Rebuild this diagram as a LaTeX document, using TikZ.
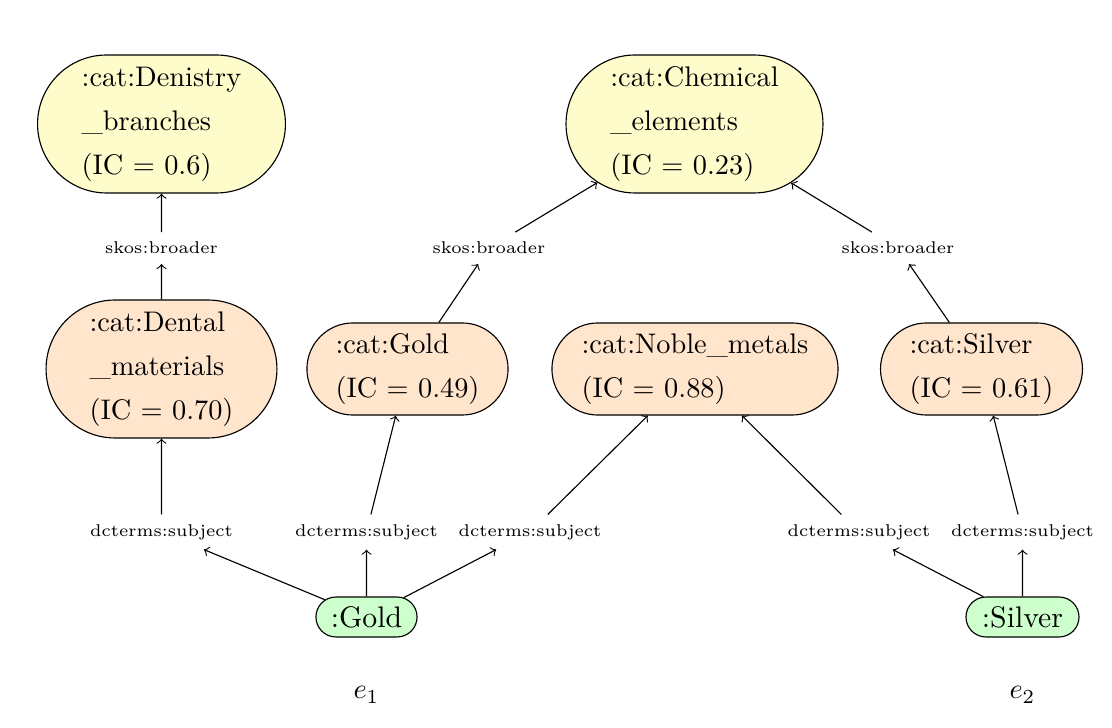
\documentclass[tikz,border=0pt]{standalone}
\usetikzlibrary{shapes.misc}
\begin{document}
\begin{tikzpicture}[x=0.353pt,y=-0.353pt,
  catbox/.style={rounded rectangle, draw=black, align=left, inner sep=0pt,
    font={\fontsize{10}{15.5}\selectfont}},
  topcat/.style={catbox, fill=yellow!20, minimum height=48.7pt},
  midcat/.style={catbox, fill=orange!20},
  entity/.style={rounded rectangle, draw=black, fill=green!20, inner sep=0pt,
    minimum height=14.1pt, font={\fontsize{10.5}{12}\selectfont}},
  rel/.style={font={\fontsize{6}{7}\selectfont}, inner sep=3.3pt},
  arr/.style={->}
]
\useasboundingbox (0,0) rectangle (1112,728);

\node[topcat, minimum width=87.5pt] (A) at (161.5,124) {:cat:Denistry\\\_branches\\(IC $=$ 0.6)};
\node[topcat, minimum width=90.7pt] (B) at (694.5,124) {:cat:Chemical\\\_elements\\(IC $=$ 0.23)};
\node[midcat, minimum width=81.5pt, minimum height=48.7pt] (C) at (161.5,369) {:cat:Dental\\\_materials\\(IC $=$ 0.70)};
\node[midcat, minimum width=71pt, minimum height=32.5pt] (D) at (407.5,369) {:cat:Gold\\(IC $=$ 0.49)};
\node[midcat, minimum width=101pt, minimum height=32.5pt] (E) at (695,369) {:cat:Noble\_metals\\(IC $=$ 0.88)};
\node[midcat, minimum width=71.3pt, minimum height=32.5pt] (F) at (981.5,369) {:cat:Silver\\(IC $=$ 0.61)};
\node[entity, minimum width=35.7pt] (G) at (366.5,617) {:Gold};
\node[entity, minimum width=39.9pt] (H) at (1022.5,617) {:Silver};

\node[rel] (s1) at (161.5,248) {skos:broader};
\node[rel] (s2) at (489,248) {skos:broader};
\node[rel] (s3) at (898,248) {skos:broader};
\node[rel] (d1) at (161.5,532) {dcterms:subject};
\node[rel] (d2) at (366.5,532) {dcterms:subject};
\node[rel] (d3) at (530,532) {dcterms:subject};
\node[rel] (d4) at (859,532) {dcterms:subject};
\node[rel] (d5) at (1022.5,532) {dcterms:subject};

\node (e1) at (366.5,695) {$e_1$};
\node (e2) at (1022.5,695) {$e_2$};

\draw[arr] (C) -- (s1);
\draw[arr] (s1) -- (A);
\draw[arr] (D) -- (s2);
\draw[arr] (s2) -- (B);
\draw[arr] (F) -- (s3);
\draw[arr] (s3) -- (B);
\draw[arr] (d1) -- (C);
\draw[arr] (d2) -- (D);
\draw[arr] (d3) -- (E);
\draw[arr] (d4) -- (E);
\draw[arr] (d5) -- (F);
\draw[arr] (G) -- (d1);
\draw[arr] (G) -- (d2);
\draw[arr] (G) -- (d3);
\draw[arr] (H) -- (d4);
\draw[arr] (H) -- (d5);
\end{tikzpicture}
\end{document}
